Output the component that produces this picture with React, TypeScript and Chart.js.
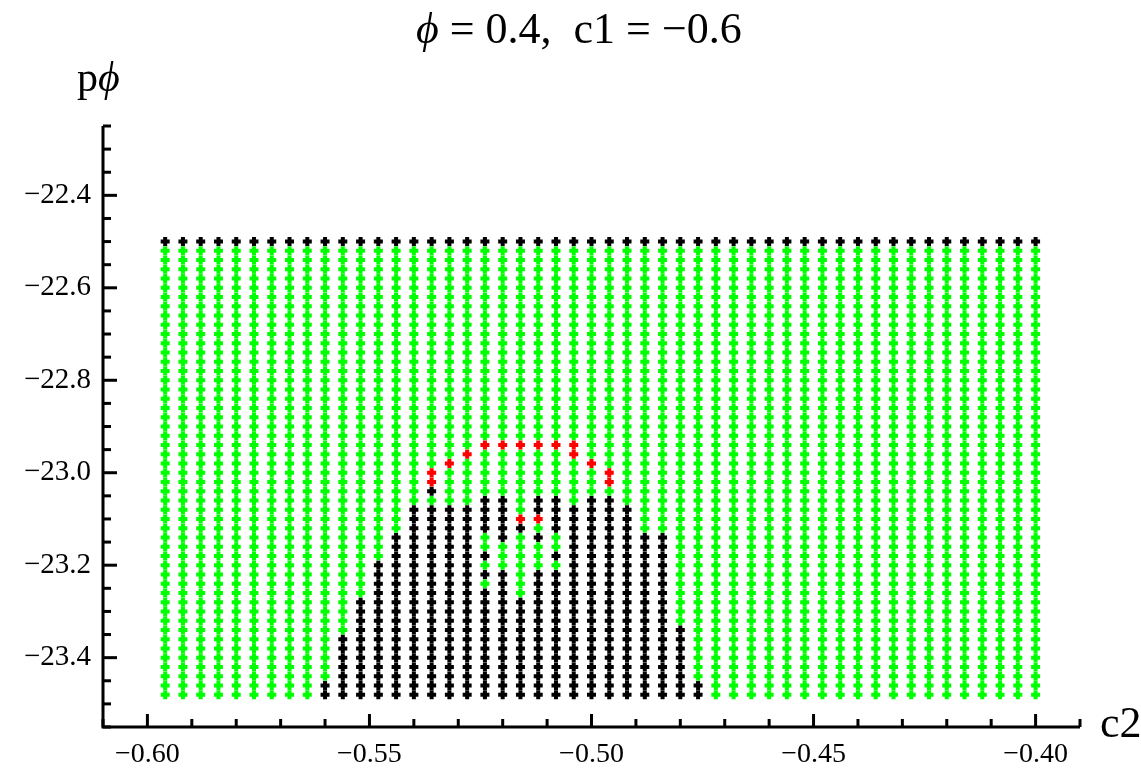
import React, { useEffect, useRef } from "react";
import { Chart, registerables } from "chart.js";

Chart.register(...registerables);

// grid of c2 values (columns)
const c2Values = [
  -0.596, -0.592, -0.588, -0.584, -0.58, -0.576, -0.572, -0.568, -0.564, -0.56,
  -0.556, -0.552, -0.548, -0.544, -0.54, -0.536, -0.532, -0.528, -0.524, -0.52,
  -0.516, -0.512, -0.508, -0.504, -0.5, -0.496, -0.492, -0.488, -0.484, -0.48,
  -0.476, -0.472, -0.468, -0.464, -0.46, -0.456, -0.452, -0.448, -0.444, -0.44,
  -0.436, -0.432, -0.428, -0.424, -0.42, -0.416, -0.412, -0.408, -0.404, -0.4,
];

// grid of pφ values (rows)
const pPhiValues = [
  -22.5, -22.52, -22.54, -22.56, -22.58, -22.6, -22.62, -22.64, -22.66, -22.68,
  -22.7, -22.72, -22.74, -22.76, -22.78, -22.8, -22.82, -22.84, -22.86, -22.88,
  -22.9, -22.92, -22.94, -22.96, -22.98, -23.0, -23.02, -23.04, -23.06, -23.08,
  -23.1, -23.12, -23.14, -23.16, -23.18, -23.2, -23.22, -23.24, -23.26, -23.28,
  -23.3, -23.32, -23.34, -23.36, -23.38, -23.4, -23.42, -23.44, -23.46, -23.48,
];

// top row is black in every column
const blackTopRowPphi = -22.5;

// per column: pφ at and below which points are black (null = none)
const blackFromPphi: (number | null)[] = [
  null, null, null, null, null, null, null, null, null, -23.46,
  -23.36, -23.28, -23.2, -23.14, -23.08, -23.04, -23.08, -23.08, -23.06, -23.06,
  -23.12, -23.06, -23.06, -23.08, -23.06, -23.06, -23.08, -23.14, -23.14, -23.34,
  -23.46, null, null, null, null, null, null, null, null, null,
  null, null, null, null, null, null, null, null, null, null,
];

// green points inside the black band
const holeC2 = [
  -0.536,
  -0.524, -0.524, -0.524, -0.524,
  -0.52, -0.52, -0.52,
  -0.516, -0.516, -0.516, -0.516, -0.516, -0.516, -0.516,
  -0.512, -0.512, -0.512, -0.512,
  -0.508, -0.508, -0.508,
];
const holePphi = [
  -23.06,
  -23.14, -23.16, -23.2, -23.24,
  -23.16, -23.18, -23.2,
  -23.14, -23.16, -23.18, -23.2, -23.22, -23.24, -23.26,
  -23.12, -23.16, -23.18, -23.2,
  -23.14, -23.16, -23.2,
];

// red points
const redC2 = [
  -0.536, -0.536, -0.532, -0.528, -0.524, -0.52, -0.516, -0.516,
  -0.512, -0.512, -0.508, -0.504, -0.504, -0.5, -0.496, -0.496,
];
const redPphi = [
  -23.0, -23.02, -22.98, -22.96, -22.94, -22.94, -22.94, -23.1,
  -22.94, -23.1, -22.94, -22.94, -22.96, -22.98, -23.0, -23.02,
];

const xMajorTicks = [-0.6, -0.55, -0.5, -0.45, -0.4];
const xTickLabels = ["\u22120.60", "\u22120.55", "\u22120.50", "\u22120.45", "\u22120.40"];
const yMajorTicks = [-23.4, -23.2, -23.0, -22.8, -22.6, -22.4];
const yTickLabels = ["\u221223.4", "\u221223.2", "\u221223.0", "\u221222.8", "\u221222.6", "\u221222.4"];

const titleRest = " = 0.4,  c1 = \u22120.6";

const GREEN = "#00ff00";
const BLACK = "#000000";
const RED = "#ff0000";
const SERIF = "'Liberation Serif', 'Times New Roman', serif";

const eq = (a: number, b: number) => Math.abs(a - b) < 1e-6;

function buildPoints() {
  const green: { x: number; y: number }[] = [];
  const black: { x: number; y: number }[] = [];
  const red: { x: number; y: number }[] = [];
  c2Values.forEach((x, i) => {
    pPhiValues.forEach((y) => {
      const isRed = redC2.some((rx, k) => eq(rx, x) && eq(redPphi[k], y));
      if (isRed) {
        red.push({ x, y });
        return;
      }
      const isHole = holeC2.some((hx, k) => eq(hx, x) && eq(holePphi[k], y));
      const bf = blackFromPphi[i];
      const isBlack = eq(y, blackTopRowPphi) || (bf !== null && y <= bf + 1e-6 && !isHole);
      (isBlack ? black : green).push({ x, y });
    });
  });
  return { green, black, red };
}

const decorPlugin = {
  id: "decor",
  afterDraw(chart: any) {
    const { ctx, chartArea, scales } = chart;
    const { left, right, top, bottom } = chartArea;
    const xs = scales.x;
    const ys = scales.y;
    ctx.save();
    ctx.strokeStyle = "#000";
    ctx.lineWidth = 3;
    ctx.lineCap = "butt";
    ctx.beginPath();
    ctx.moveTo(left, top);
    ctx.lineTo(left, bottom);
    ctx.lineTo(right, bottom);
    ctx.stroke();
    xs.ticks.forEach((t: any) => {
      const px = xs.getPixelForValue(t.value);
      const major = xMajorTicks.some((m) => eq(m, t.value));
      ctx.beginPath();
      ctx.moveTo(px, bottom);
      ctx.lineTo(px, bottom - (major ? 13 : 8));
      ctx.stroke();
    });
    ys.ticks.forEach((t: any) => {
      const py = ys.getPixelForValue(t.value);
      const major = yMajorTicks.some((m) => eq(m, t.value));
      ctx.beginPath();
      ctx.moveTo(left, py);
      ctx.lineTo(left + (major ? 14 : 8), py);
      ctx.stroke();
    });

    ctx.fillStyle = "#000";
    ctx.textBaseline = "alphabetic";
    ctx.textAlign = "left";
    // title
    ctx.font = `italic 44px ${SERIF}`;
    const phiW = ctx.measureText("\u03d5").width;
    const titleX = 416;
    ctx.fillText("\u03d5", titleX, 43);
    ctx.font = `44px ${SERIF}`;
    ctx.fillText(titleRest, titleX + phiW, 43);
    // y axis label
    ctx.font = `42px ${SERIF}`;
    ctx.fillText("p", 77, 91);
    const pW = ctx.measureText("p").width;
    ctx.font = `italic 42px ${SERIF}`;
    ctx.fillText("\u03d5", 77 + pW, 91);
    // x axis label
    ctx.font = `44px ${SERIF}`;
    ctx.fillText("c2", 1100, 737);
    ctx.restore();
  },
};

export default function App() {
  const canvasRef = useRef<HTMLCanvasElement | null>(null);

  useEffect(() => {
    const canvas = canvasRef.current;
    if (!canvas) return;
    const { green, black, red } = buildPoints();
    const pointStyle = (color: string) => ({
      pointStyle: "cross" as const,
      pointRadius: 4.5,
      pointBorderWidth: 4,
      pointBorderColor: color,
      pointBackgroundColor: color,
      borderColor: color,
      backgroundColor: color,
      showLine: false,
    });
    const chart = new Chart(canvas, {
      type: "scatter",
      data: {
        datasets: [
          { label: "red", data: red, ...pointStyle(RED) },
          { label: "black", data: black, ...pointStyle(BLACK) },
          { label: "green", data: green, ...pointStyle(GREEN) },
        ],
      },
      options: {
        responsive: false,
        animation: false,
        devicePixelRatio: 1,
        layout: { padding: { top: 126, left: 0, right: 61, bottom: 0 } },
        plugins: {
          legend: { display: false },
          tooltip: { enabled: false },
          title: { display: false },
        },
        scales: {
          x: {
            type: "linear",
            min: -0.61,
            max: -0.39,
            grid: { display: false, drawTicks: false },
            border: { display: false },
            afterBuildTicks: (scale: any) => {
              const ticks = [];
              for (let k = -61; k <= -39; k++) ticks.push({ value: k / 100 });
              scale.ticks = ticks;
            },
            afterFit: (scale: any) => {
              scale.height = 41;
            },
            ticks: {
              autoSkip: false,
              maxRotation: 0,
              minRotation: 0,
              padding: 11,
              color: "#000",
              font: { family: SERIF, size: 28 },
              callback: (value: any) => {
                const idx = xMajorTicks.findIndex((m) => eq(m, Number(value)));
                return idx >= 0 ? xTickLabels[idx] : "";
              },
            },
          },
          y: {
            type: "linear",
            min: -23.55,
            max: -22.25,
            grid: { display: false, drawTicks: false },
            border: { display: false },
            afterBuildTicks: (scale: any) => {
              const ticks = [];
              for (let k = -471; k <= -445; k++) ticks.push({ value: k / 20 });
              scale.ticks = ticks;
            },
            afterFit: (scale: any) => {
              scale.width = 103;
            },
            ticks: {
              autoSkip: false,
              padding: 12,
              color: "#000",
              font: { family: SERIF, size: 29 },
              callback: (value: any) => {
                const idx = yMajorTicks.findIndex((m) => eq(m, Number(value)));
                return idx >= 0 ? yTickLabels[idx] : "";
              },
            },
          },
        },
      },
      plugins: [decorPlugin],
    });
    return () => chart.destroy();
  }, []);

  return (
    <div style={{ position: "fixed", left: 0, top: 0, width: 1141, height: 768, background: "#fff" }}>
      <canvas ref={canvasRef} width={1141} height={768} style={{ display: "block" }} />
    </div>
  );
}
